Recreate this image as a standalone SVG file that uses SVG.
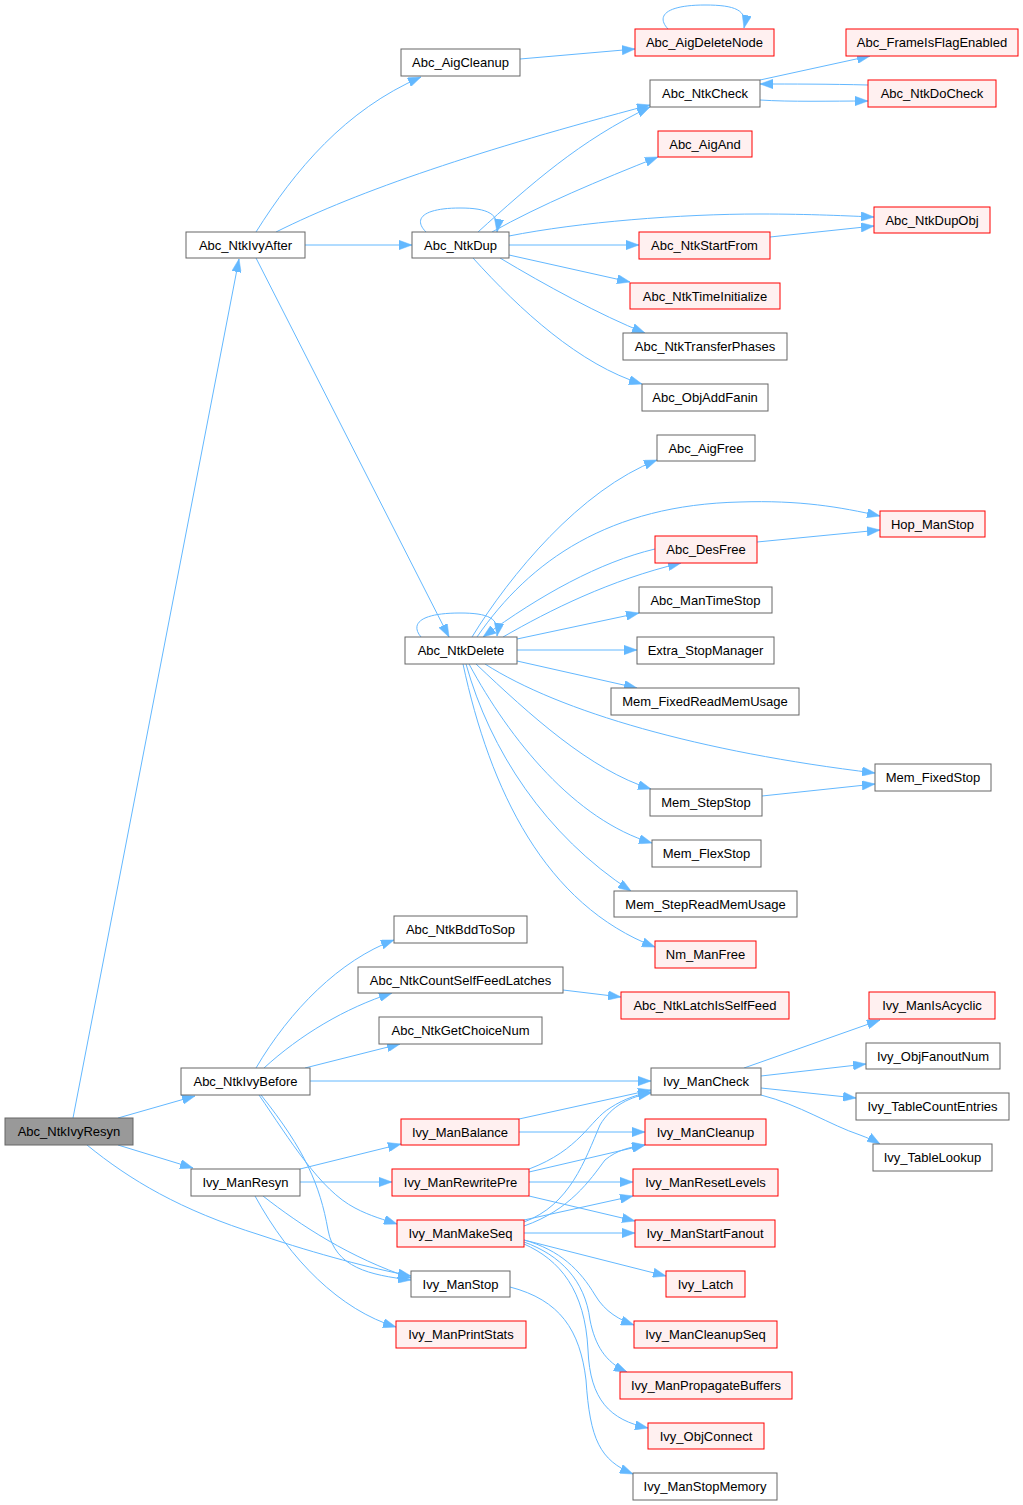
<svg xmlns="http://www.w3.org/2000/svg" width="1023" height="1505" viewBox="0 0 1023 1505">
<style>
.n rect{fill:#ffffff;stroke:#666666;stroke-width:1}
.r rect{fill:#fff0f0;stroke:#ff0000;stroke-width:1}
.root rect{fill:#999999;stroke:#666666;stroke-width:1}
text{font-family:"Liberation Sans",Arial,sans-serif;font-size:13px;fill:#000000;text-anchor:middle}
#edges path{fill:none;stroke:#63b8ff;stroke-width:1;marker-end:url(#a)}
</style>
<defs>
<marker id="a" viewBox="0 0 13 9.4" refX="13" refY="4.7" markerWidth="13" markerHeight="9.4" orient="auto" markerUnits="userSpaceOnUse"><path d="M0,0L13,4.7L0,9.4z" fill="#63b8ff" stroke="#63b8ff" stroke-width="0.5"/></marker>
</defs>
<rect width="1023" height="1505" fill="#ffffff"/>
<g id="edges">
<path d="M73,1118 L239,259"/>
<path d="M118,1118 L195,1096"/>
<path d="M118,1145 L193,1168"/>
<path d="M87,1145 C130,1180 180,1210 260,1235 C320,1255 370,1268 411,1276"/>
<path d="M256,232 C295,170 345,110 421,77"/>
<path d="M276,232 C360,190 480,150 650,105"/>
<path d="M305,245 L412,245"/>
<path d="M256,258 L449,637"/>
<path d="M426,232 C412,218 425,208 460,208 C488,208 500,214 497,232"/>
<path d="M478,232 C530,185 580,140 650,107"/>
<path d="M492,232 C540,205 600,180 658,157"/>
<path d="M509,236 C580,222 680,214 760,214 C810,214 850,216 874,217"/>
<path d="M509,245 L639,245"/>
<path d="M509,255 L630,282"/>
<path d="M500,258 C545,285 600,315 645,333"/>
<path d="M473,258 C520,310 580,365 642,384"/>
<path d="M520,59 L635,49"/>
<path d="M668,29 C655,15 668,5 705,5 C735,5 748,10 744,28"/>
<path d="M760,80 L870,56"/>
<path d="M760,100 C790,102 830,101 868,101"/>
<path d="M868,85 C830,84 790,84 760,84"/>
<path d="M770,237 L874,226"/>
<path d="M421,637 C410,624 420,613 460,613 C488,613 500,618 497,636"/>
<path d="M472,637 C510,575 580,490 657,460"/>
<path d="M477,637 C530,560 610,505 740,502 C800,500 840,507 880,516"/>
<path d="M655,549 C600,562 540,595 483,637"/>
<path d="M503,637 C550,610 610,580 681,563"/>
<path d="M757,542 L880,530"/>
<path d="M517,639 L639,613"/>
<path d="M517,650 L637,650"/>
<path d="M517,661 L637,688"/>
<path d="M485,664 C560,712 700,752 875,773"/>
<path d="M476,664 C530,715 590,770 651,789"/>
<path d="M469,664 C510,740 575,820 652,843"/>
<path d="M466,664 C490,750 545,835 631,891"/>
<path d="M463,664 C490,790 545,905 655,947"/>
<path d="M762,796 L875,784"/>
<path d="M256,1068 C290,1010 340,960 394,940"/>
<path d="M264,1068 C300,1035 345,1008 392,993"/>
<path d="M305,1068 L400,1044"/>
<path d="M310,1081 L651,1081"/>
<path d="M259,1095 C290,1140 320,1190 355,1208 C370,1216 385,1220 397,1224"/>
<path d="M261,1095 C305,1150 320,1185 328,1230 C335,1268 370,1275 411,1280"/>
<path d="M300,1169 L401,1144"/>
<path d="M300,1182 L392,1182"/>
<path d="M263,1196 C300,1225 350,1258 411,1278"/>
<path d="M255,1196 C290,1260 340,1310 396,1327"/>
<path d="M519,1119 L651,1090"/>
<path d="M519,1132 L645,1132"/>
<path d="M529,1169 C580,1150 590,1120 610,1108 C625,1098 640,1094 651,1092"/>
<path d="M529,1172 L645,1145"/>
<path d="M529,1182 L633,1182"/>
<path d="M529,1196 L635,1221"/>
<path d="M524,1222 C570,1205 585,1160 600,1125 C612,1105 630,1097 651,1093"/>
<path d="M524,1226 C570,1210 590,1180 605,1160 C617,1150 630,1147 645,1145"/>
<path d="M524,1220 L633,1196"/>
<path d="M524,1233 L635,1233"/>
<path d="M524,1240 L666,1276"/>
<path d="M524,1240 C560,1250 580,1270 595,1295 C605,1312 620,1320 634,1325"/>
<path d="M524,1242 C560,1255 585,1280 590,1320 C595,1345 605,1362 627,1372"/>
<path d="M524,1244 C560,1260 585,1290 588,1350 C590,1400 610,1420 648,1428"/>
<path d="M510,1287 C560,1300 580,1330 586,1380 C590,1440 600,1460 633,1474"/>
<path d="M744,1068 L880,1020"/>
<path d="M761,1076 L866,1064"/>
<path d="M761,1088 L856,1098"/>
<path d="M761,1095 C800,1105 830,1125 860,1135 C868,1138 875,1141 880,1144"/>
<path d="M563,990 L621,997"/>
</g>
<g id="Abc_NtkIvyResyn" class="root"><rect x="5" y="1118" width="128" height="27"/><text x="69" y="1136">Abc_NtkIvyResyn</text></g>
<g id="Abc_NtkIvyAfter" class="n"><rect x="186" y="232" width="119" height="26"/><text x="245.5" y="249.5">Abc_NtkIvyAfter</text></g>
<g id="Abc_AigCleanup" class="n"><rect x="401" y="49" width="119" height="27"/><text x="460.5" y="67">Abc_AigCleanup</text></g>
<g id="Abc_AigDeleteNode" class="r"><rect x="635" y="29" width="139" height="27"/><text x="704.5" y="47">Abc_AigDeleteNode</text></g>
<g id="Abc_FrameIsFlagEnabled" class="r"><rect x="846" y="29" width="172" height="27"/><text x="932" y="47">Abc_FrameIsFlagEnabled</text></g>
<g id="Abc_NtkCheck" class="n"><rect x="650" y="80" width="110" height="27"/><text x="705" y="98">Abc_NtkCheck</text></g>
<g id="Abc_NtkDoCheck" class="r"><rect x="868" y="80" width="128" height="27"/><text x="932" y="98">Abc_NtkDoCheck</text></g>
<g id="Abc_AigAnd" class="r"><rect x="658" y="131" width="94" height="26"/><text x="705" y="148.5">Abc_AigAnd</text></g>
<g id="Abc_NtkDup" class="n"><rect x="412" y="232" width="97" height="26"/><text x="460.5" y="249.5">Abc_NtkDup</text></g>
<g id="Abc_NtkDupObj" class="r"><rect x="874" y="207" width="116" height="26"/><text x="932" y="224.5">Abc_NtkDupObj</text></g>
<g id="Abc_NtkStartFrom" class="r"><rect x="639" y="232" width="131" height="27"/><text x="704.5" y="250">Abc_NtkStartFrom</text></g>
<g id="Abc_NtkTimeInitialize" class="r"><rect x="630" y="283" width="150" height="26"/><text x="705" y="300.5">Abc_NtkTimeInitialize</text></g>
<g id="Abc_NtkTransferPhases" class="n"><rect x="623" y="333" width="164" height="27"/><text x="705" y="351">Abc_NtkTransferPhases</text></g>
<g id="Abc_ObjAddFanin" class="n"><rect x="642" y="384" width="126" height="27"/><text x="705" y="402">Abc_ObjAddFanin</text></g>
<g id="Abc_AigFree" class="n"><rect x="657" y="435" width="98" height="26"/><text x="706" y="452.5">Abc_AigFree</text></g>
<g id="Hop_ManStop" class="r"><rect x="880" y="511" width="105" height="26"/><text x="932.5" y="528.5">Hop_ManStop</text></g>
<g id="Abc_DesFree" class="r"><rect x="655" y="536" width="102" height="27"/><text x="706" y="554">Abc_DesFree</text></g>
<g id="Abc_ManTimeStop" class="n"><rect x="639" y="587" width="133" height="26"/><text x="705.5" y="604.5">Abc_ManTimeStop</text></g>
<g id="Extra_StopManager" class="n"><rect x="637" y="637" width="137" height="27"/><text x="705.5" y="655">Extra_StopManager</text></g>
<g id="Mem_FixedReadMemUsage" class="n"><rect x="611" y="688" width="188" height="27"/><text x="705" y="706">Mem_FixedReadMemUsage</text></g>
<g id="Abc_NtkDelete" class="n"><rect x="405" y="637" width="112" height="27"/><text x="461" y="655">Abc_NtkDelete</text></g>
<g id="Mem_FixedStop" class="n"><rect x="875" y="764" width="116" height="27"/><text x="933" y="782">Mem_FixedStop</text></g>
<g id="Mem_StepStop" class="n"><rect x="650" y="789" width="112" height="27"/><text x="706" y="807">Mem_StepStop</text></g>
<g id="Mem_FlexStop" class="n"><rect x="652" y="840" width="109" height="27"/><text x="706.5" y="858">Mem_FlexStop</text></g>
<g id="Mem_StepReadMemUsage" class="n"><rect x="614" y="891" width="183" height="26"/><text x="705.5" y="908.5">Mem_StepReadMemUsage</text></g>
<g id="Nm_ManFree" class="r"><rect x="655" y="941" width="101" height="27"/><text x="705.5" y="959">Nm_ManFree</text></g>
<g id="Abc_NtkBddToSop" class="n"><rect x="394" y="916" width="133" height="27"/><text x="460.5" y="934">Abc_NtkBddToSop</text></g>
<g id="Abc_NtkCountSelfFeedLatches" class="n"><rect x="358" y="967" width="205" height="26"/><text x="460.5" y="984.5">Abc_NtkCountSelfFeedLatches</text></g>
<g id="Abc_NtkGetChoiceNum" class="n"><rect x="379" y="1017" width="163" height="27"/><text x="460.5" y="1035">Abc_NtkGetChoiceNum</text></g>
<g id="Abc_NtkLatchIsSelfFeed" class="r"><rect x="621" y="992" width="168" height="27"/><text x="705" y="1010">Abc_NtkLatchIsSelfFeed</text></g>
<g id="Abc_NtkIvyBefore" class="n"><rect x="181" y="1068" width="129" height="27"/><text x="245.5" y="1086">Abc_NtkIvyBefore</text></g>
<g id="Ivy_ManCheck" class="n"><rect x="651" y="1068" width="110" height="27"/><text x="706" y="1086">Ivy_ManCheck</text></g>
<g id="Ivy_ManIsAcyclic" class="r"><rect x="869" y="992" width="126" height="27"/><text x="932" y="1010">Ivy_ManIsAcyclic</text></g>
<g id="Ivy_ObjFanoutNum" class="n"><rect x="866" y="1043" width="134" height="26"/><text x="933" y="1060.5">Ivy_ObjFanoutNum</text></g>
<g id="Ivy_TableCountEntries" class="n"><rect x="856" y="1093" width="153" height="27"/><text x="932.5" y="1111">Ivy_TableCountEntries</text></g>
<g id="Ivy_TableLookup" class="n"><rect x="873" y="1144" width="119" height="27"/><text x="932.5" y="1162">Ivy_TableLookup</text></g>
<g id="Ivy_ManResyn" class="n"><rect x="191" y="1169" width="109" height="27"/><text x="245.5" y="1187">Ivy_ManResyn</text></g>
<g id="Ivy_ManBalance" class="r"><rect x="401" y="1119" width="118" height="26"/><text x="460" y="1136.5">Ivy_ManBalance</text></g>
<g id="Ivy_ManCleanup" class="r"><rect x="645" y="1119" width="121" height="26"/><text x="705.5" y="1136.5">Ivy_ManCleanup</text></g>
<g id="Ivy_ManRewritePre" class="r"><rect x="392" y="1169" width="137" height="27"/><text x="460.5" y="1187">Ivy_ManRewritePre</text></g>
<g id="Ivy_ManResetLevels" class="r"><rect x="633" y="1169" width="145" height="27"/><text x="705.5" y="1187">Ivy_ManResetLevels</text></g>
<g id="Ivy_ManMakeSeq" class="r"><rect x="397" y="1220" width="127" height="27"/><text x="460.5" y="1238">Ivy_ManMakeSeq</text></g>
<g id="Ivy_ManStartFanout" class="r"><rect x="635" y="1220" width="140" height="27"/><text x="705" y="1238">Ivy_ManStartFanout</text></g>
<g id="Ivy_ManStop" class="n"><rect x="411" y="1271" width="99" height="26"/><text x="460.5" y="1288.5">Ivy_ManStop</text></g>
<g id="Ivy_Latch" class="r"><rect x="666" y="1271" width="79" height="26"/><text x="705.5" y="1288.5">Ivy_Latch</text></g>
<g id="Ivy_ManPrintStats" class="r"><rect x="396" y="1321" width="130" height="27"/><text x="461" y="1339">Ivy_ManPrintStats</text></g>
<g id="Ivy_ManCleanupSeq" class="r"><rect x="634" y="1321" width="143" height="27"/><text x="705.5" y="1339">Ivy_ManCleanupSeq</text></g>
<g id="Ivy_ManPropagateBuffers" class="r"><rect x="620" y="1372" width="172" height="27"/><text x="706" y="1390">Ivy_ManPropagateBuffers</text></g>
<g id="Ivy_ObjConnect" class="r"><rect x="648" y="1423" width="116" height="26"/><text x="706" y="1440.5">Ivy_ObjConnect</text></g>
<g id="Ivy_ManStopMemory" class="n"><rect x="633" y="1473" width="144" height="27"/><text x="705" y="1491">Ivy_ManStopMemory</text></g>
</svg>
